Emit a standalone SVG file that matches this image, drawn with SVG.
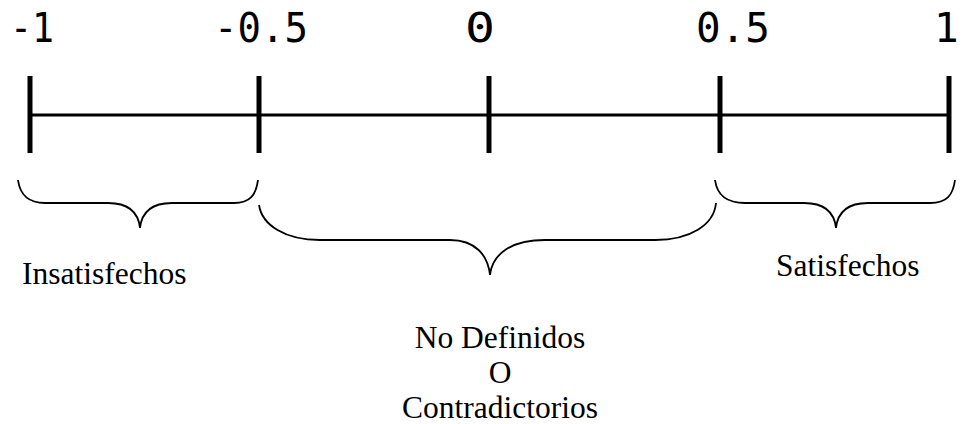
<svg xmlns="http://www.w3.org/2000/svg" width="963" height="424" viewBox="0 0 963 424">
<style>
.num{font-family:"DejaVu Sans Mono","Liberation Mono",monospace;font-size:41px;fill:#000}
.lbl{font-family:"Liberation Serif","Times New Roman",serif;font-size:31.5px;fill:#000}
.tick{stroke:#000;stroke-width:5;fill:none}
.axis{stroke:#000;stroke-width:3;fill:none}
.brace{stroke:#000;stroke-width:1.8;fill:none}
</style>
<rect width="963" height="424" fill="#fff"/>
<g id="axis">
<line class="axis" x1="30" y1="115" x2="949" y2="115"/>
</g>
<g id="tick-m1"><line class="tick" x1="30" y1="76" x2="30" y2="153"/><text class="num" x="10" y="42" textLength="44" lengthAdjust="spacingAndGlyphs">-1</text></g>
<g id="tick-m05"><line class="tick" x1="259" y1="76" x2="259" y2="153"/><text class="num" x="214" y="42" textLength="94" lengthAdjust="spacingAndGlyphs">-0.5</text></g>
<g id="tick-0"><line class="tick" x1="489" y1="76" x2="489" y2="153"/><text class="num" x="465" y="42" textLength="30" lengthAdjust="spacingAndGlyphs">0</text></g>
<g id="tick-05"><line class="tick" x1="720" y1="76" x2="720" y2="153"/><text class="num" x="696" y="42" textLength="74" lengthAdjust="spacingAndGlyphs">0.5</text></g>
<g id="tick-1"><line class="tick" x1="949" y1="76" x2="949" y2="153"/><text class="num" x="934" y="42">1</text></g>
<g id="connectors">
<path class="brace" d="M18,180 C20,195 28,203 45,203 L108,203 C126,203 138,210 140,228 C142,210 154,203 172,203 L234,203 C250,203 256,195 258,180"/>
<path class="brace" d="M259,205 C262,225 285,240 320,240 L450,240 C475,240 488,255 490,275 C492,255 510,240 545,240 L655,240 C690,240 714,225 716,203"/>
<path class="brace" d="M715,180 C717,195 726,203 745,203 L804,203 C822,203 834,210 836,228 C838,210 850,203 868,203 L930,203 C947,203 953,195 955,180"/>
</g>
<g id="insatisfechos"><text class="lbl" x="22" y="284">Insatisfechos</text></g>
<g id="satisfechos"><text class="lbl" x="776" y="276">Satisfechos</text></g>
<g id="nodefinidos"><text class="lbl" text-anchor="middle"><tspan x="500" y="348">No Definidos</tspan><tspan x="500" y="383">O</tspan><tspan x="500" y="418">Contradictorios</tspan></text></g>
</svg>
